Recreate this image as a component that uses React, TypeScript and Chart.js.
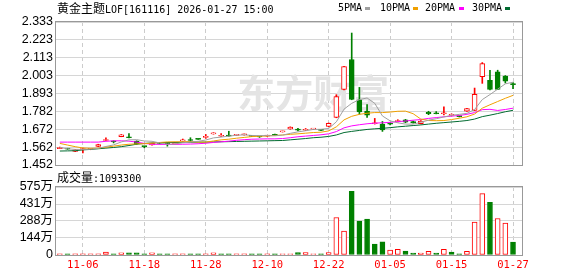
import React, { useEffect, useRef } from 'react';
import { Chart, registerables } from 'chart.js';

Chart.register(...registerables);

// ---------- data ----------
const dates = [
  '11-03', '11-04', '11-05', '11-06', '11-07', '11-10', '11-11', '11-12', '11-13', '11-14',
  '11-17', '11-18', '11-19', '11-20', '11-21', '11-24', '11-25', '11-26', '11-27', '11-28',
  '12-01', '12-02', '12-03', '12-04', '12-05', '12-08', '12-09', '12-10', '12-11', '12-12',
  '12-15', '12-16', '12-17', '12-18', '12-19', '12-22', '12-23', '12-24', '12-25', '12-26',
  '12-29', '12-30', '12-31', '01-05', '01-06', '01-07', '01-08', '01-09', '01-12', '01-13',
  '01-14', '01-15', '01-16', '01-19', '01-20', '01-21', '01-22', '01-23', '01-26', '01-27',
];

const open = [
  1.553, 1.553, 1.536, 1.547, 1.549, 1.566, 1.603, 1.597, 1.627, 1.622,
  1.599, 1.567, 1.575, 1.588, 1.587, 1.583, 1.601, 1.606, 1.612, 1.622,
  1.644, 1.629, 1.633, 1.635, 1.638, 1.630, 1.627, 1.630, 1.640, 1.656,
  1.674, 1.673, 1.666, 1.673, 1.668, 1.690, 1.745, 1.917, 2.102, 1.854,
  1.784, 1.706, 1.704, 1.707, 1.719, 1.730, 1.720, 1.707, 1.776, 1.770,
  1.768, 1.757, 1.752, 1.784, 1.789, 1.996, 1.973, 2.026, 2.000, 1.950,
];
const high = [
  1.562, 1.555, 1.548, 1.556, 1.553, 1.580, 1.620, 1.601, 1.640, 1.646,
  1.601, 1.568, 1.586, 1.591, 1.590, 1.588, 1.612, 1.620, 1.614, 1.640,
  1.651, 1.645, 1.660, 1.640, 1.643, 1.633, 1.629, 1.634, 1.642, 1.661,
  1.687, 1.678, 1.677, 1.677, 1.670, 1.711, 1.885, 2.060, 2.265, 1.930,
  1.825, 1.739, 1.720, 1.712, 1.731, 1.733, 1.722, 1.725, 1.783, 1.781,
  1.810, 1.767, 1.754, 1.801, 1.926, 2.083, 2.036, 2.036, 2.003, 1.960,
];
const low = [
  1.552, 1.548, 1.534, 1.527, 1.546, 1.565, 1.602, 1.588, 1.626, 1.619,
  1.579, 1.558, 1.574, 1.581, 1.568, 1.582, 1.598, 1.598, 1.609, 1.616,
  1.642, 1.628, 1.629, 1.633, 1.636, 1.626, 1.622, 1.628, 1.633, 1.655,
  1.672, 1.662, 1.665, 1.671, 1.663, 1.688, 1.743, 1.915, 1.854, 1.765,
  1.745, 1.704, 1.659, 1.699, 1.717, 1.712, 1.710, 1.705, 1.762, 1.767,
  1.760, 1.755, 1.748, 1.782, 1.787, 1.955, 1.915, 1.916, 1.957, 1.923,
];
const close = [
  1.560, 1.550, 1.546, 1.549, 1.551, 1.578, 1.606, 1.594, 1.638, 1.620,
  1.583, 1.565, 1.585, 1.585, 1.584, 1.587, 1.605, 1.603, 1.610, 1.627,
  1.649, 1.633, 1.630, 1.638, 1.642, 1.628, 1.625, 1.632, 1.635, 1.660,
  1.685, 1.667, 1.670, 1.675, 1.665, 1.708, 1.873, 2.058, 1.856, 1.779,
  1.759, 1.709, 1.668, 1.704, 1.722, 1.716, 1.712, 1.722, 1.768, 1.768,
  1.772, 1.764, 1.750, 1.799, 1.887, 2.077, 1.917, 1.918, 1.968, 1.947,
];

const ma5 = [
  1.560, 1.552, 1.548, 1.548, 1.549, 1.555, 1.566, 1.576, 1.594, 1.607,
  1.608, 1.600, 1.598, 1.588, 1.580, 1.581, 1.589, 1.593, 1.598, 1.606,
  1.619, 1.624, 1.630, 1.635, 1.638, 1.634, 1.633, 1.633, 1.632, 1.636,
  1.647, 1.656, 1.663, 1.671, 1.672, 1.677, 1.718, 1.796, 1.832, 1.855,
  1.865, 1.832, 1.754, 1.724, 1.712, 1.704, 1.704, 1.715, 1.728, 1.737,
  1.748, 1.758, 1.764, 1.770, 1.794, 1.855, 1.886, 1.919, 1.952, 1.962,
];
const ma10 = [
  1.585, 1.575, 1.565, 1.557, 1.555, 1.556, 1.562, 1.568, 1.575, 1.580,
  1.582, 1.583, 1.587, 1.591, 1.594, 1.595, 1.595, 1.596, 1.593, 1.593,
  1.600, 1.607, 1.611, 1.617, 1.622, 1.627, 1.629, 1.631, 1.634, 1.637,
  1.641, 1.644, 1.648, 1.652, 1.654, 1.662, 1.687, 1.730, 1.752, 1.764,
  1.771, 1.775, 1.775, 1.778, 1.783, 1.784, 1.768, 1.735, 1.726, 1.725,
  1.726, 1.732, 1.740, 1.749, 1.766, 1.802, 1.823, 1.843, 1.863, 1.881,
];
const ma20 = [
  1.593, 1.593, 1.593, 1.593, 1.593, 1.593, 1.598, 1.601, 1.601, 1.599,
  1.593, 1.585, 1.580, 1.579, 1.579, 1.579, 1.580, 1.581, 1.583, 1.586,
  1.591, 1.595, 1.599, 1.604, 1.608, 1.611, 1.612, 1.613, 1.613, 1.615,
  1.620, 1.626, 1.630, 1.634, 1.638, 1.644, 1.658, 1.681, 1.693, 1.700,
  1.706, 1.710, 1.712, 1.715, 1.719, 1.723, 1.728, 1.732, 1.739, 1.744,
  1.749, 1.753, 1.757, 1.764, 1.775, 1.793, 1.795, 1.788, 1.794, 1.802,
];
const ma30 = [
  1.538, 1.539, 1.540, 1.545, 1.548, 1.552, 1.556, 1.560, 1.565, 1.572,
  1.580, 1.585, 1.588, 1.590, 1.591, 1.591, 1.592, 1.592, 1.593, 1.593,
  1.594, 1.595, 1.596, 1.597, 1.598, 1.599, 1.600, 1.601, 1.602, 1.603,
  1.607, 1.611, 1.615, 1.620, 1.623, 1.628, 1.637, 1.652, 1.659, 1.665,
  1.671, 1.675, 1.678, 1.682, 1.687, 1.691, 1.695, 1.699, 1.704, 1.709,
  1.713, 1.717, 1.721, 1.726, 1.735, 1.750, 1.759, 1.769, 1.780, 1.789,
];

// volume in 万 (10k shares)
const volume = [
  9, 9, 9, 9, 9, 9, 25, 9, 18, 18,
  18, 9, 18, 9, 9, 9, 9, 9, 9, 9,
  18, 9, 9, 9, 9, 9, 9, 9, 9, 10,
  10, 20, 20, 10, 10, 20, 317, 202, 539, 286,
  303, 93, 112, 42, 48, 34, 17, 17, 31, 17,
  48, 25, 10, 31, 278, 519, 446, 309, 270, 109.33,
];
// true = red (close up vs previous close), false = green
const volUp = [
  true, false, true, true, true, true, true, false, true, false,
  false, false, true, false, false, true, true, false, false, true,
  true, false, false, true, true, false, false, true, false, true,
  true, false, true, true, false, true, true, true, false, false,
  false, false, false, true, true, false, false, true, true, false,
  true, false, false, true, true, true, false, true, true, false,
];

const priceTickLabels = ['1.452', '1.562', '1.672', '1.782', '1.893', '2.003', '2.113', '2.223', '2.333'];
const volTickValues = [0, 144, 288, 431, 575];
const volTickLabels = ['0', '144万', '288万', '431万', '575万'];
const axisDates = ['11-06', '11-18', '11-28', '12-10', '12-22', '01-05', '01-15', '01-27'];

const maNames = ['5PMA', '10PMA', '20PMA', '30PMA'];
const maSeries = [ma5, ma10, ma20, ma30];

const titleName = '黄金主题';
const titleCode = 'LOF[161116] 2026-01-27 15:00';
const volTitleName = '成交量';
const volTitleValue = ':1093300';

// ---------- styles ----------
const RED = '#ff0000';
const GREEN = '#008000';
const MA_COLORS = ['#a0a0a0', '#f0a000', '#ff00ff', '#006b30'];
const GRID = '#d6d6d6';
const VGRID = '#cccccc';
const FRAME = '#999999';
const MONO = '"DejaVu Sans Mono", monospace';
const CJK = '"Noto Sans CJK SC", sans-serif';
const X_MIN = -0.5;
const X_MAX = 60.17;

const axisIdx = axisDates.map((d) => dates.indexOf(d));

const framePlugin = {
  id: 'frame',
  afterDraw(chart: any) {
    const { ctx, chartArea: a } = chart;
    ctx.save();
    ctx.strokeStyle = FRAME;
    ctx.lineWidth = 1;
    ctx.strokeRect(
      Math.round(a.left) - 0.5,
      Math.round(a.top) - 0.5,
      Math.round(a.right - a.left) + 1,
      Math.round(a.bottom - a.top) + 1,
    );
    ctx.restore();
  },
};

const watermarkPlugin = {
  id: 'watermark',
  beforeDatasetsDraw(chart: any) {
    const { ctx, chartArea: a } = chart;
    ctx.save();
    ctx.fillStyle = '#e4e4e4';
    ctx.font = 'bold 38px "Noto Sans CJK SC"';
    ctx.textAlign = 'center';
    ctx.textBaseline = 'middle';
    ctx.fillText('东方财富', a.left + (a.right - a.left) * 0.552, a.top + (a.bottom - a.top) * 0.49);
    ctx.restore();
  },
};

function xScale(showLabels: boolean, height: number) {
  return {
    type: 'linear',
    min: X_MIN,
    max: X_MAX,
    offset: false,
    afterBuildTicks: (s: any) => {
      s.ticks = axisIdx.map((v) => ({ value: v }));
    },
    afterFit: (s: any) => {
      s.height = height;
      s.paddingLeft = 0;
      s.paddingRight = 0;
    },
    grid: { color: VGRID, drawTicks: false, offset: false, lineWidth: 1 },
    border: { display: false, dash: [4, 3] },
    ticks: {
      display: showLabels,
      autoSkip: false,
      maxRotation: 0,
      padding: 4,
      color: RED,
      font: { family: MONO, size: 10.5 },
      callback: (v: number) => dates[v] ?? '',
    },
  };
}

function yScale(min: number, max: number, values: number[], labels: string[]) {
  return {
    min,
    max,
    afterBuildTicks: (s: any) => {
      s.ticks = values.map((v) => ({ value: v }));
    },
    afterFit: (s: any) => {
      s.width = 56;
      s.paddingTop = 0;
      s.paddingBottom = 0;
    },
    grid: { color: GRID, drawTicks: false, lineWidth: 1 },
    border: { display: false },
    ticks: {
      autoSkip: false,
      padding: 3,
      color: '#000',
      font: { family: '"Liberation Sans", "Noto Sans CJK SC", sans-serif', size: 12.5 },
      callback: (_v: number, i: number) => labels[i],
    },
  };
}

export default function App() {
  const mainRef = useRef<HTMLCanvasElement>(null);
  const volRef = useRef<HTMLCanvasElement>(null);

  useEffect(() => {
    const isUp = (i: number) => close[i] >= open[i];

    const lineSets = maSeries.map((arr, k) => ({
      type: 'line',
      label: maNames[k],
      data: arr.map((v, i) => ({ x: i, y: v })),
      borderColor: MA_COLORS[k],
      borderWidth: 1,
      pointRadius: 0,
      fill: false,
      tension: 0,
      order: 0,
    }));

    const main = new Chart(mainRef.current as HTMLCanvasElement, {
      type: 'bar',
      data: {
        datasets: [
          ...lineSets,
          {
            type: 'bar',
            label: 'body',
            data: open.map((o, i) => ({ x: i, y: [o, close[i]] })),
            backgroundColor: (c: any) => (isUp(c.dataIndex) ? '#ffffff' : GREEN),
            borderColor: (c: any) => (isUp(c.dataIndex) ? RED : GREEN),
            borderWidth: 1,
            borderSkipped: false,
            barThickness: 5,
            minBarLength: 1,
            grouped: false,
            order: 1,
          },
          {
            type: 'bar',
            label: 'wick',
            data: low.map((l, i) => ({ x: i, y: [l, high[i]] })),
            backgroundColor: (c: any) => (isUp(c.dataIndex) ? RED : GREEN),
            borderWidth: 0,
            barThickness: 1,
            minBarLength: 1,
            grouped: false,
            order: 2,
          },
        ] as any,
      },
      options: {
        responsive: false,
        animation: false,
        events: [],
        layout: { padding: { top: 22, right: 56, left: 0, bottom: 0 } },
        plugins: { legend: { display: false }, tooltip: { enabled: false } },
        scales: {
          x: xScale(false, 15) as any,
          y: yScale(
            parseFloat(priceTickLabels[0]),
            parseFloat(priceTickLabels[priceTickLabels.length - 1]),
            priceTickLabels.map((t) => parseFloat(t)),
            priceTickLabels,
          ) as any,
        },
      },
      plugins: [watermarkPlugin, framePlugin],
    });

    const vol = new Chart(volRef.current as HTMLCanvasElement, {
      type: 'bar',
      data: {
        datasets: [
          {
            label: 'volume',
            data: volume.map((v, i) => ({ x: i, y: v })),
            backgroundColor: (c: any) => (volUp[c.dataIndex] ? '#ffffff' : GREEN),
            borderColor: (c: any) => (volUp[c.dataIndex] ? RED : GREEN),
            borderWidth: 1,
            borderSkipped: false,
            barThickness: 5,
            grouped: false,
          },
        ] as any,
      },
      options: {
        responsive: false,
        animation: false,
        events: [],
        layout: { padding: { top: 17, right: 56, left: 0, bottom: 0 } },
        plugins: { legend: { display: false }, tooltip: { enabled: false } },
        scales: {
          x: xScale(true, 21) as any,
          y: yScale(volTickValues[0], volTickValues[volTickValues.length - 1], volTickValues, volTickLabels) as any,
        },
      },
      plugins: [framePlugin],
    });

    return () => {
      main.destroy();
      vol.destroy();
    };
  }, []);

  const legendText = [338, 380, 425, 472];
  const legendBox = [365, 413, 459, 505];

  return (
    <div
      style={{
        position: 'fixed',
        left: 0,
        top: 0,
        width: 578,
        height: 276,
        background: '#ffffff',
        overflow: 'hidden',
      }}
    >
      <canvas ref={mainRef} width={578} height={180} style={{ position: 'absolute', left: 0, top: 0 }} />
      <canvas ref={volRef} width={578} height={106} style={{ position: 'absolute', left: 0, top: 170 }} />
      <div
        style={{
          position: 'absolute',
          left: 57,
          top: 1,
          height: 14,
          lineHeight: '14px',
          whiteSpace: 'nowrap',
          color: '#000',
        }}
      >
        <span style={{ fontFamily: CJK, fontSize: 12 }}>{titleName}</span>
        <span style={{ fontFamily: MONO, fontSize: 10 }}>{titleCode}</span>
      </div>
      {maNames.map((n, k) => (
        <React.Fragment key={n}>
          <div
            style={{
              position: 'absolute',
              left: legendText[k],
              top: 1,
              height: 14,
              lineHeight: '14px',
              fontFamily: MONO,
              fontSize: 10,
              color: '#000',
              whiteSpace: 'nowrap',
            }}
          >
            {n}
          </div>
          <div
            style={{
              position: 'absolute',
              left: legendBox[k],
              top: 7,
              width: 5,
              height: 3,
              background: MA_COLORS[k],
            }}
          />
        </React.Fragment>
      ))}
      <div
        style={{
          position: 'absolute',
          left: 57,
          top: 170,
          height: 14,
          lineHeight: '14px',
          whiteSpace: 'nowrap',
          color: '#000',
        }}
      >
        <span style={{ fontFamily: CJK, fontSize: 12 }}>{volTitleName}</span>
        <span style={{ fontFamily: MONO, fontSize: 10 }}>{volTitleValue}</span>
      </div>
    </div>
  );
}
